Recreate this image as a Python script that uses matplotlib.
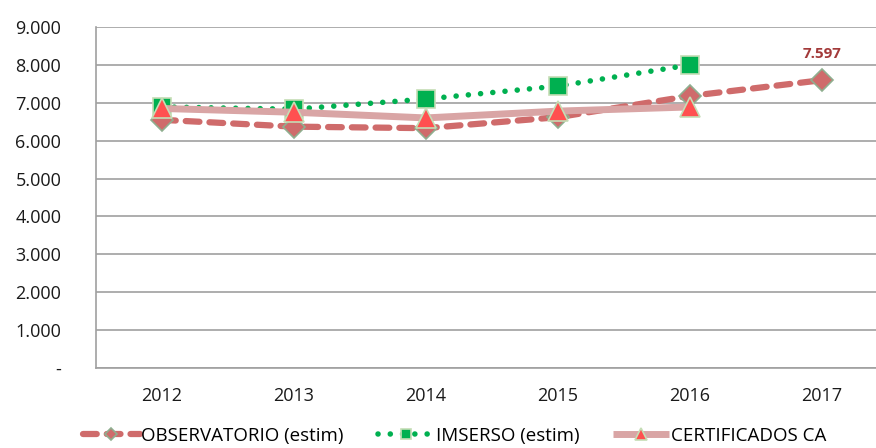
import matplotlib.pyplot as plt
from matplotlib.ticker import FuncFormatter

anios = ["2012", "2013", "2014", "2015", "2016", "2017"]
observatorio = [6550, 6370, 6330, 6620, 7180, 7597]
imserso = [6890, 6830, 7100, 7440, 8000]
certificados = [6850, 6750, 6600, 6780, 6890]

plt.rcParams['font.family'] = ['Open Sans', 'DejaVu Sans']

fig = plt.figure(figsize=(8.76, 4.48), dpi=100)
# el área de trazado llega más allá del borde derecho, como en el original
ax = fig.add_axes([96 / 876, 80 / 448, 792 / 876, 341 / 448])

x = list(range(len(anios)))

ax.plot(x, observatorio, color='#CF6B6B', linewidth=4.5, linestyle=(0, (2.2, 1.6)),
        dash_capstyle='round', marker='D', markersize=11, markerfacecolor='#CF6B6B',
        markeredgecolor='#8FAE8F', markeredgewidth=1.2, zorder=3)
ax.plot(x[:5], imserso, color='#00B050', linewidth=4, linestyle=(0, (0.01, 2.2)),
        dash_capstyle='round', marker='s', markersize=13, markerfacecolor='#00B050',
        markeredgecolor='#C5DDB5', markeredgewidth=1.2, zorder=2)
ax.plot(x[:5], certificados, color='#D9A5A5', linewidth=5, solid_capstyle='butt',
        marker='^', markersize=14, markerfacecolor='#FF5050',
        markeredgecolor='#C5DDB5', markeredgewidth=1.2, zorder=4)

ax.annotate(f"{observatorio[-1]:,}".replace(",", "."), (x[-1], observatorio[-1]),
            xytext=(0, 14), textcoords='offset points', ha='center', va='bottom',
            fontsize=11, fontweight='bold', color='#A33A3A')

ax.set_xlim(-0.5, 5.5)
ax.set_ylim(0, 9000)
ax.set_yticks(range(0, 9001, 1000))
ax.yaxis.set_major_formatter(FuncFormatter(
    lambda v, p: "-" if v == 0 else f"{int(v):,}".replace(",", ".")))
ax.set_xticks(x)
ax.set_xticklabels(anios)
ax.tick_params(length=0, labelsize=13, colors='#1a1a1a')
ax.tick_params(axis='x', pad=14)
ax.tick_params(axis='y', pad=25)

ax.grid(axis='y', color='#A0A0A0', linewidth=1.2)
ax.set_axisbelow(True)
for s in ['top', 'right']:
    ax.spines[s].set_visible(False)
for s in ['left', 'bottom']:
    ax.spines[s].set_color('#A0A0A0')
    ax.spines[s].set_linewidth(1.2)

leg = fig.legend(['OBSERVATORIO (estim)', 'IMSERSO (estim)', 'CERTIFICADOS CA'],
                 loc='center', bbox_to_anchor=(455 / 876, 12 / 448), ncol=3, frameon=False,
                 fontsize=13.5, handlelength=3.0, columnspacing=1.8, handletextpad=0.1,
                 markerscale=0.6, borderpad=0)

plt.savefig("out.png", dpi=100)
